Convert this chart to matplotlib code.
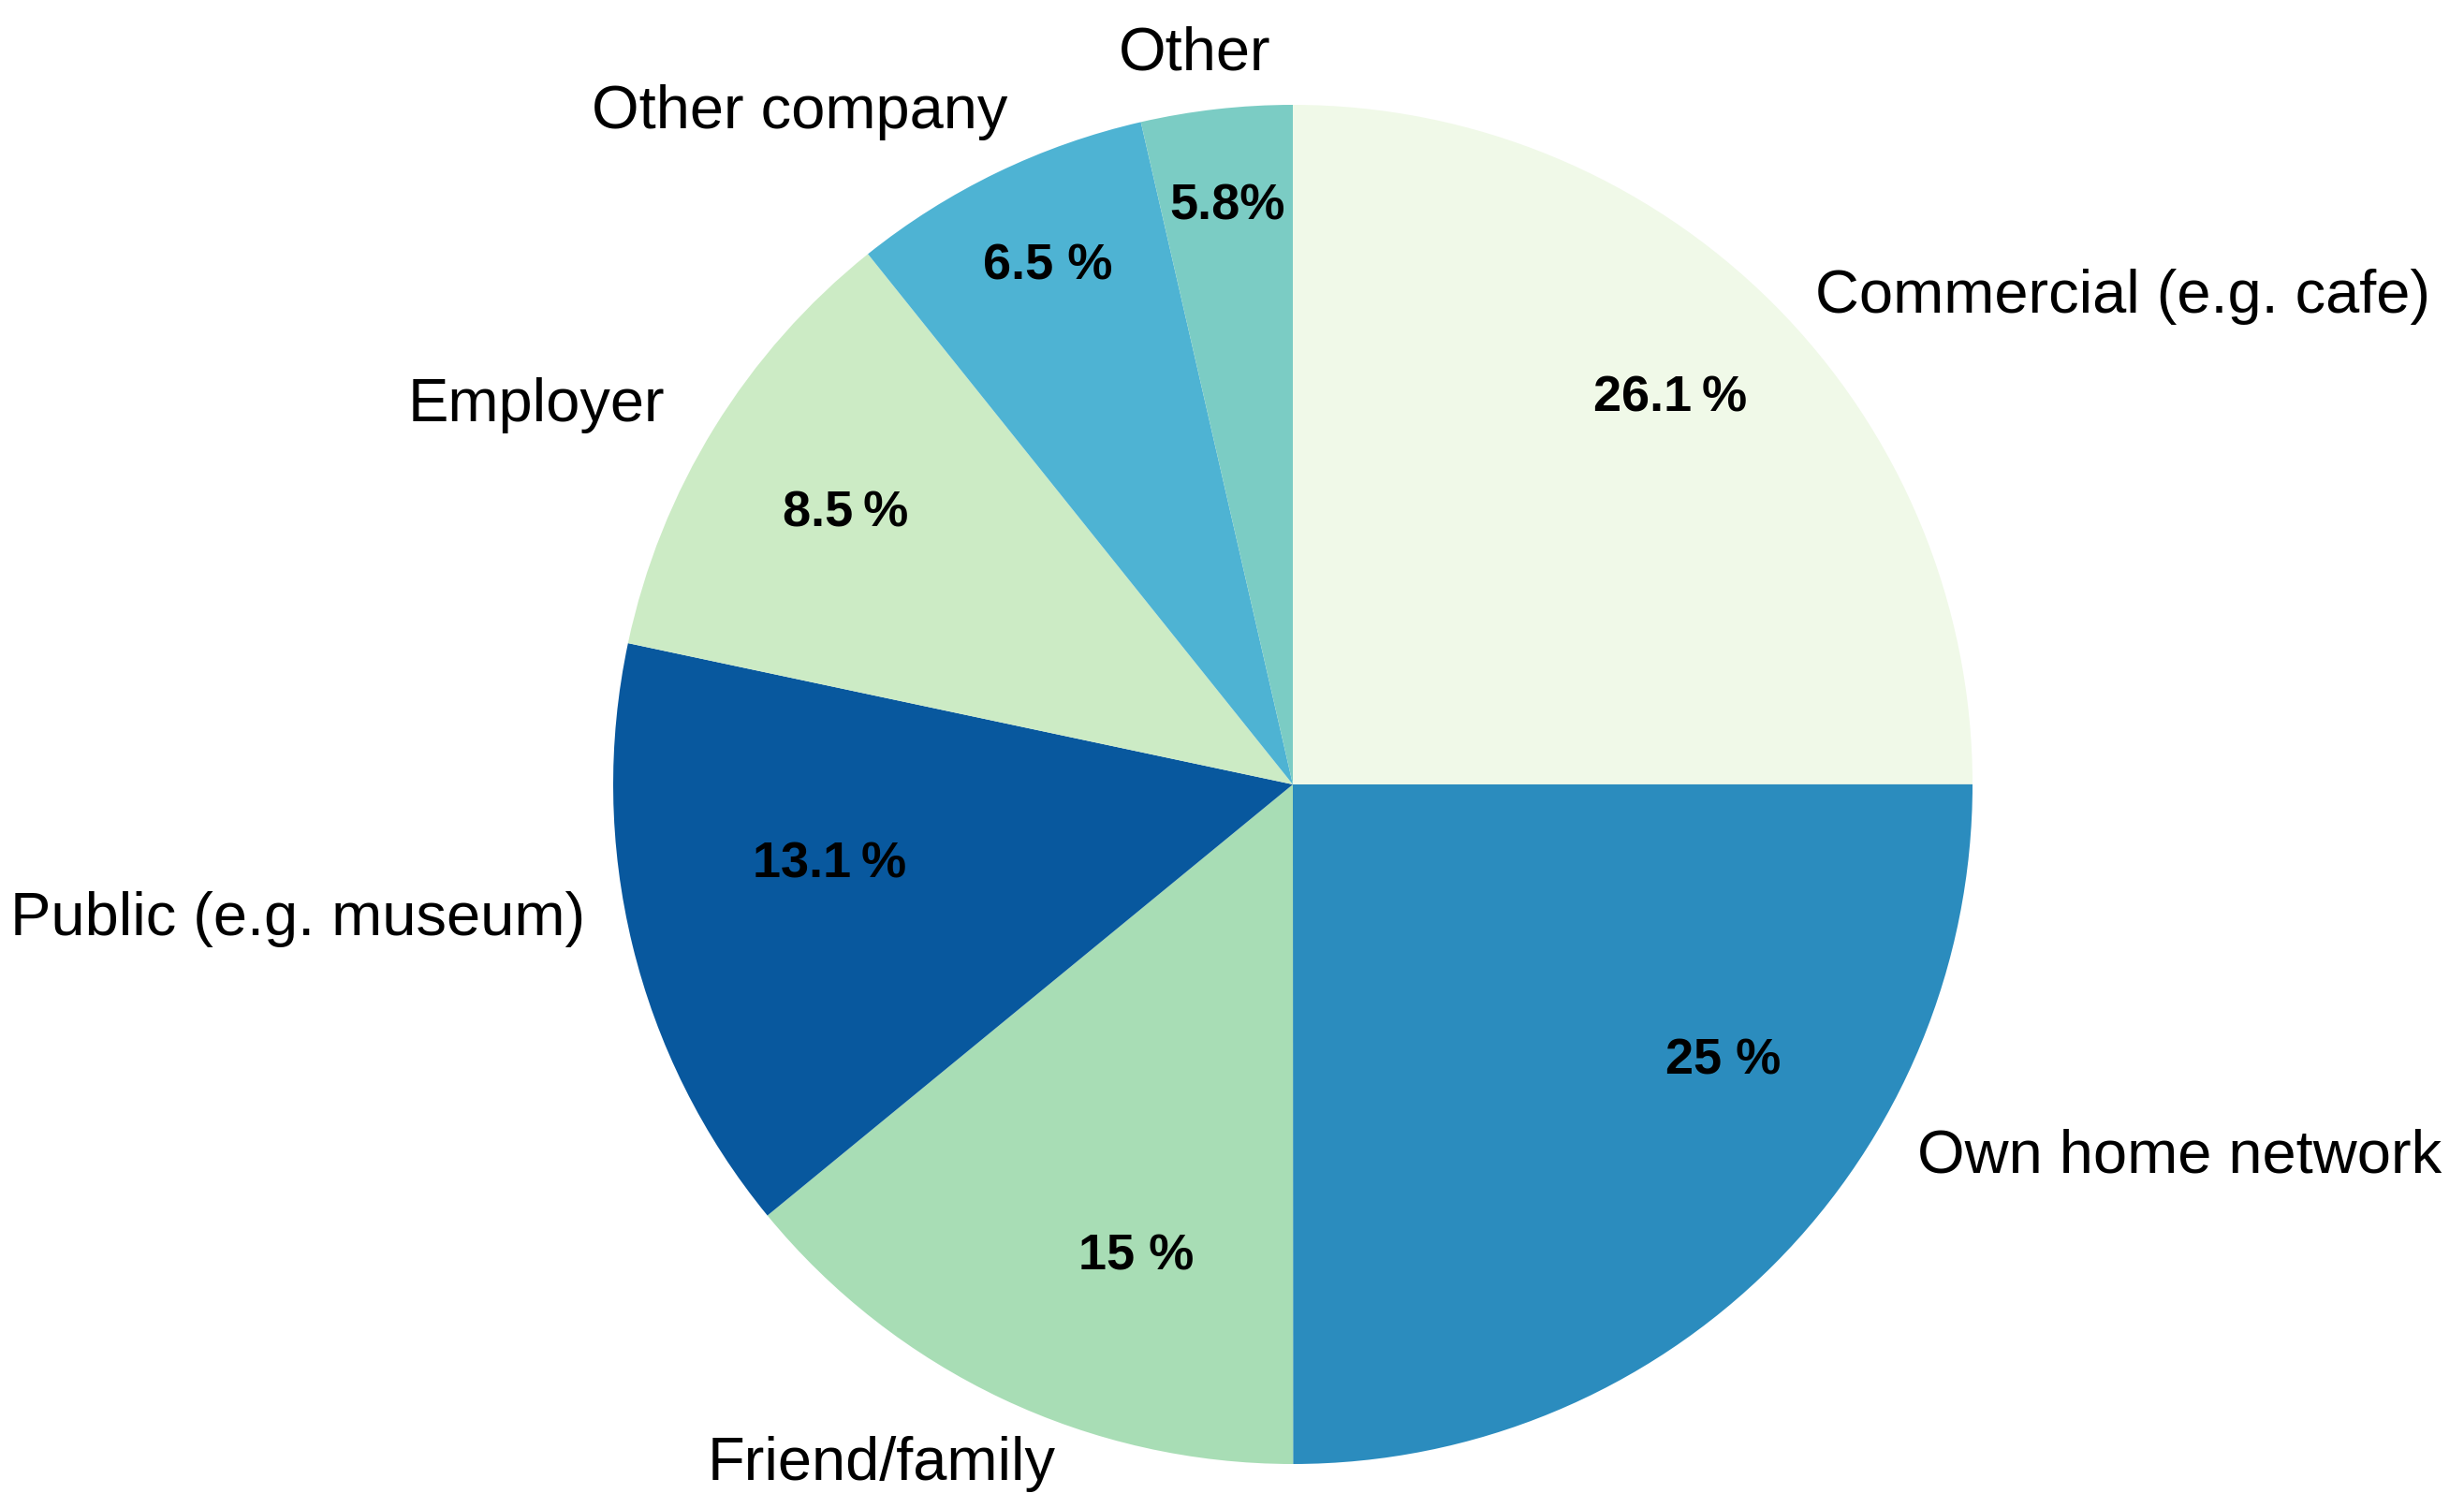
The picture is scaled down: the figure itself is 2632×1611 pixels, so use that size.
import numpy as np
import matplotlib
matplotlib.use("Agg")
import matplotlib.pyplot as plt

plt.rcParams['font.family'] = ['Liberation Sans', 'DejaVu Sans']

# wedge shares and the printed percentage labels
categories = ['Commercial (e.g. cafe)', 'Own home network', 'Friend/family',
              'Public (e.g. museum)', 'Employer', 'Other company', 'Other']
shares = [25.0, 25.0, 14.07, 14.27, 10.92, 7.16, 3.59]
pct_labels = ['26.1\u2009%', '25 %', '15 %', '13.1\u2009%', '8.5\u2009%', '6.5 %', '5.8%']
colors = ['#f0f9e8', '#2b8cbe', '#a8ddb5', '#08589e', '#ccebc5', '#4eb3d3', '#7bccc4']

# label layout: polar anchor (degrees, radius in pie radii) and alignment
name_angle = [42.09, -31.89, -120.58, 192.02, 149.96, 113.51, 97.79]
name_radius = [1.0357, 1.0820, 1.1887, 1.0647, 1.0676, 1.0530, 1.0621]
name_ha = ['left', 'left', 'center', 'right', 'right', 'right', 'center']
pct_angle = [45.63, -32.76, -108.30, 189.83, 148.80, 115.35, 96.49]
pct_radius = [0.7939, 0.7534, 0.7326, 0.6913, 0.7698, 0.8429, 0.8567]

W, H, DPI = 2632, 1611, 200
R_PX = 726.0
CX, CY = 1381.0, 838.0

fig = plt.figure(figsize=(W / DPI, H / DPI), dpi=DPI)
ax = fig.add_axes([0, 0, 1, 1])

ax.pie(shares, colors=colors, startangle=90, counterclock=False,
       radius=1.0, wedgeprops={'linewidth': 0, 'edgecolor': 'none'})

for name, ang, rad, ha in zip(categories, name_angle, name_radius, name_ha):
    t = np.deg2rad(ang)
    ax.text(rad * np.cos(t), rad * np.sin(t), name, ha=ha, va='baseline',
            fontsize=23.4, color='black')

for lab, ang, rad in zip(pct_labels, pct_angle, pct_radius):
    t = np.deg2rad(ang)
    ax.text(rad * np.cos(t), rad * np.sin(t), lab, ha='center', va='center',
            fontsize=19.5, fontweight='bold', color='black')

ax.set_aspect('equal', adjustable='box')
ax.set_xlim(-CX / R_PX, (W - CX) / R_PX)
ax.set_ylim(-(H - CY) / R_PX, CY / R_PX)
ax.axis('off')

fig.savefig('out.png', dpi=DPI, facecolor='white')
